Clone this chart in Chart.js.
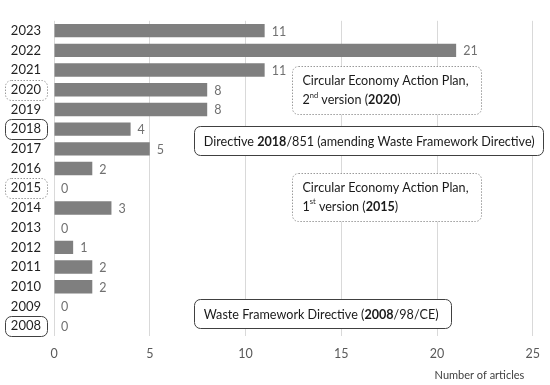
<!DOCTYPE html>
<html>
<head>
<meta charset="utf-8">
<script src="https://cdn.jsdelivr.net/npm/chart.js@4"></script>
<style>
  html, body { margin: 0; padding: 0; background: #fff; }
  #wrap { width: 550px; height: 385px; position: relative; }
</style>
</head>
<body>
<div id="wrap"><canvas id="articlesChart"></canvas></div>
<script>
// --- DATA ---
var years = ['2023', '2022', '2021', '2020', '2019', '2018', '2017', '2016',
             '2015', '2014', '2013', '2012', '2011', '2010', '2009', '2008'];
var articles = [11, 21, 11, 8, 8, 4, 5, 2, 0, 3, 0, 1, 2, 2, 0, 0];
var xTicks = [0, 5, 10, 15, 20, 25];

// years that get a box round their axis label
var solidYears = ['2018', '2008'];
var dottedYears = ['2020', '2015'];

// policy callouts: x range in data units, row (category index, may be fractional)
var callouts = [
  { x0: 12.45, x1: 22.3, row: 3, h: 48, dotted: true,
    lines: [[{ t: 'Circular Economy Action Plan,' }],
            [{ t: '2' }, { t: 'nd', sup: true }, { t: ' version (' }, { t: '2020', b: true }, { t: ')' }]] },
  { x0: 7.3, x1: 25.55, row: 5.6, h: 29, dotted: false,
    lines: [[{ t: 'Directive ' }, { t: '2018', b: true }, { t: '/851 (amending Waste Framework Directive)' }]] },
  { x0: 12.45, x1: 22.3, row: 8.42, h: 48, dotted: true,
    lines: [[{ t: 'Circular Economy Action Plan,' }],
            [{ t: '1' }, { t: 'st', sup: true }, { t: ' version (' }, { t: '2015', b: true }, { t: ')' }]] },
  { x0: 7.3, x1: 20.7, row: 14.38, h: 29, dotted: false,
    lines: [[{ t: 'Waste Framework Directive (' }, { t: '2008', b: true }, { t: '/98/CE)' }]] }
];

var FONT = 'Lato, "Open Sans", sans-serif';

function roundRect(ctx, x, y, w, h, r) {
  ctx.beginPath();
  ctx.moveTo(x + r, y);
  ctx.lineTo(x + w - r, y);
  ctx.arcTo(x + w, y, x + w, y + r, r);
  ctx.lineTo(x + w, y + h - r);
  ctx.arcTo(x + w, y + h, x + w - r, y + h, r);
  ctx.lineTo(x + r, y + h);
  ctx.arcTo(x, y + h, x, y + h - r, r);
  ctx.lineTo(x, y + r);
  ctx.arcTo(x, y, x + r, y, r);
  ctx.closePath();
}

function strokeBox(ctx, x, y, w, h, dotted, fill) {
  ctx.save();
  roundRect(ctx, x + 0.5, y + 0.5, w, h, 6);
  if (fill) {
    ctx.fillStyle = '#fff';
    ctx.fill();
  }
  ctx.lineWidth = 1;
  if (dotted) {
    ctx.strokeStyle = '#9a9a9a';
    ctx.setLineDash([1.5, 1.5]);
  } else {
    ctx.strokeStyle = '#404040';
  }
  ctx.stroke();
  ctx.restore();
}

// value labels at the end of each bar
var valueLabels = {
  id: 'valueLabels',
  afterDatasetsDraw: function (chart) {
    var ctx = chart.ctx;
    var meta = chart.getDatasetMeta(0);
    ctx.save();
    ctx.font = '12.5px ' + FONT;
    ctx.fillStyle = '#707070';
    ctx.textAlign = 'left';
    ctx.textBaseline = 'middle';
    meta.data.forEach(function (bar, i) {
      ctx.fillText(String(articles[i]), bar.x + 7, bar.y + 1);
    });
    ctx.restore();
  }
};

// boxes round some year labels, plus the policy callouts
var callBoxes = {
  id: 'callBoxes',
  afterDraw: function (chart) {
    var ctx = chart.ctx;
    var xs = chart.scales.x, ys = chart.scales.y;

    years.forEach(function (yr, i) {
      var solid = solidYears.indexOf(yr) >= 0;
      var dot = dottedYears.indexOf(yr) >= 0;
      if (!solid && !dot) return;
      var cy = ys.getPixelForValue(i);
      strokeBox(ctx, 5, Math.round(cy - 10), 42, 20, dot, false);
    });

    callouts.forEach(function (c) {
      var left = xs.getPixelForValue(c.x0);
      var right = xs.getPixelForValue(c.x1);
      var cy = ys.getPixelForValue(0) + c.row * (ys.getPixelForValue(1) - ys.getPixelForValue(0));
      var top = Math.round(cy - c.h / 2);
      strokeBox(ctx, Math.round(left), top, Math.round(right - left), c.h, c.dotted, true);

      ctx.save();
      ctx.fillStyle = '#1a1a1a';
      ctx.textBaseline = 'middle';
      var lineH = 19;
      var firstY = cy - (c.lines.length - 1) * lineH / 2 + 1;
      c.lines.forEach(function (segs, li) {
        var tx = left + 10;
        var ty = firstY + li * lineH;
        segs.forEach(function (s) {
          if (s.sup) {
            ctx.font = '7.5px ' + FONT;
            ctx.fillText(s.t, tx, ty - 5);
          } else {
            ctx.font = (s.b ? 'bold ' : '') + '12.6px ' + FONT;
            ctx.fillText(s.t, tx, ty);
          }
          tx += ctx.measureText(s.t).width;
        });
      });
      ctx.restore();
    });
  }
};

var ctx = document.getElementById('articlesChart').getContext('2d');
var articlesChart = new Chart(ctx, {
  type: 'bar',
  data: {
    labels: years,
    datasets: [{
      label: 'Number of articles',
      data: articles,
      backgroundColor: '#7f7f7f',
      borderWidth: 0,
      barPercentage: 0.68,
      categoryPercentage: 1
    }]
  },
  options: {
    indexAxis: 'y',
    responsive: true,
    maintainAspectRatio: false,
    animation: false,
    layout: { padding: { top: 10, right: 16, left: 0, bottom: 0 } },
    plugins: {
      legend: { display: false },
      tooltip: { enabled: false }
    },
    scales: {
      x: {
        min: 0,
        max: 25,
        afterBuildTicks: function (scale) {
          scale.ticks = xTicks.map(function (v) { return { value: v }; });
        },
        afterFit: function (scale) { scale.height = 49; },
        border: { display: false },
        grid: { color: '#d9d9d9', lineWidth: 1, drawTicks: false },
        ticks: {
          padding: 10,
          color: '#595959',
          font: { family: FONT, size: 12.5 }
        },
        title: {
          display: true,
          text: 'Number of articles   ',
          align: 'end',
          color: '#404040',
          font: { family: FONT, size: 11 },
          padding: { top: 0, bottom: 3 }
        }
      },
      y: {
        afterFit: function (scale) { scale.width = 54; },
        border: { display: false },
        grid: { display: false, drawTicks: false },
        ticks: {
          autoSkip: false,
          padding: 13,
          color: '#1f1f1f',
          font: { family: FONT, size: 13 }
        }
      }
    }
  },
  plugins: [valueLabels, callBoxes]
});
</script>
</body>
</html>
